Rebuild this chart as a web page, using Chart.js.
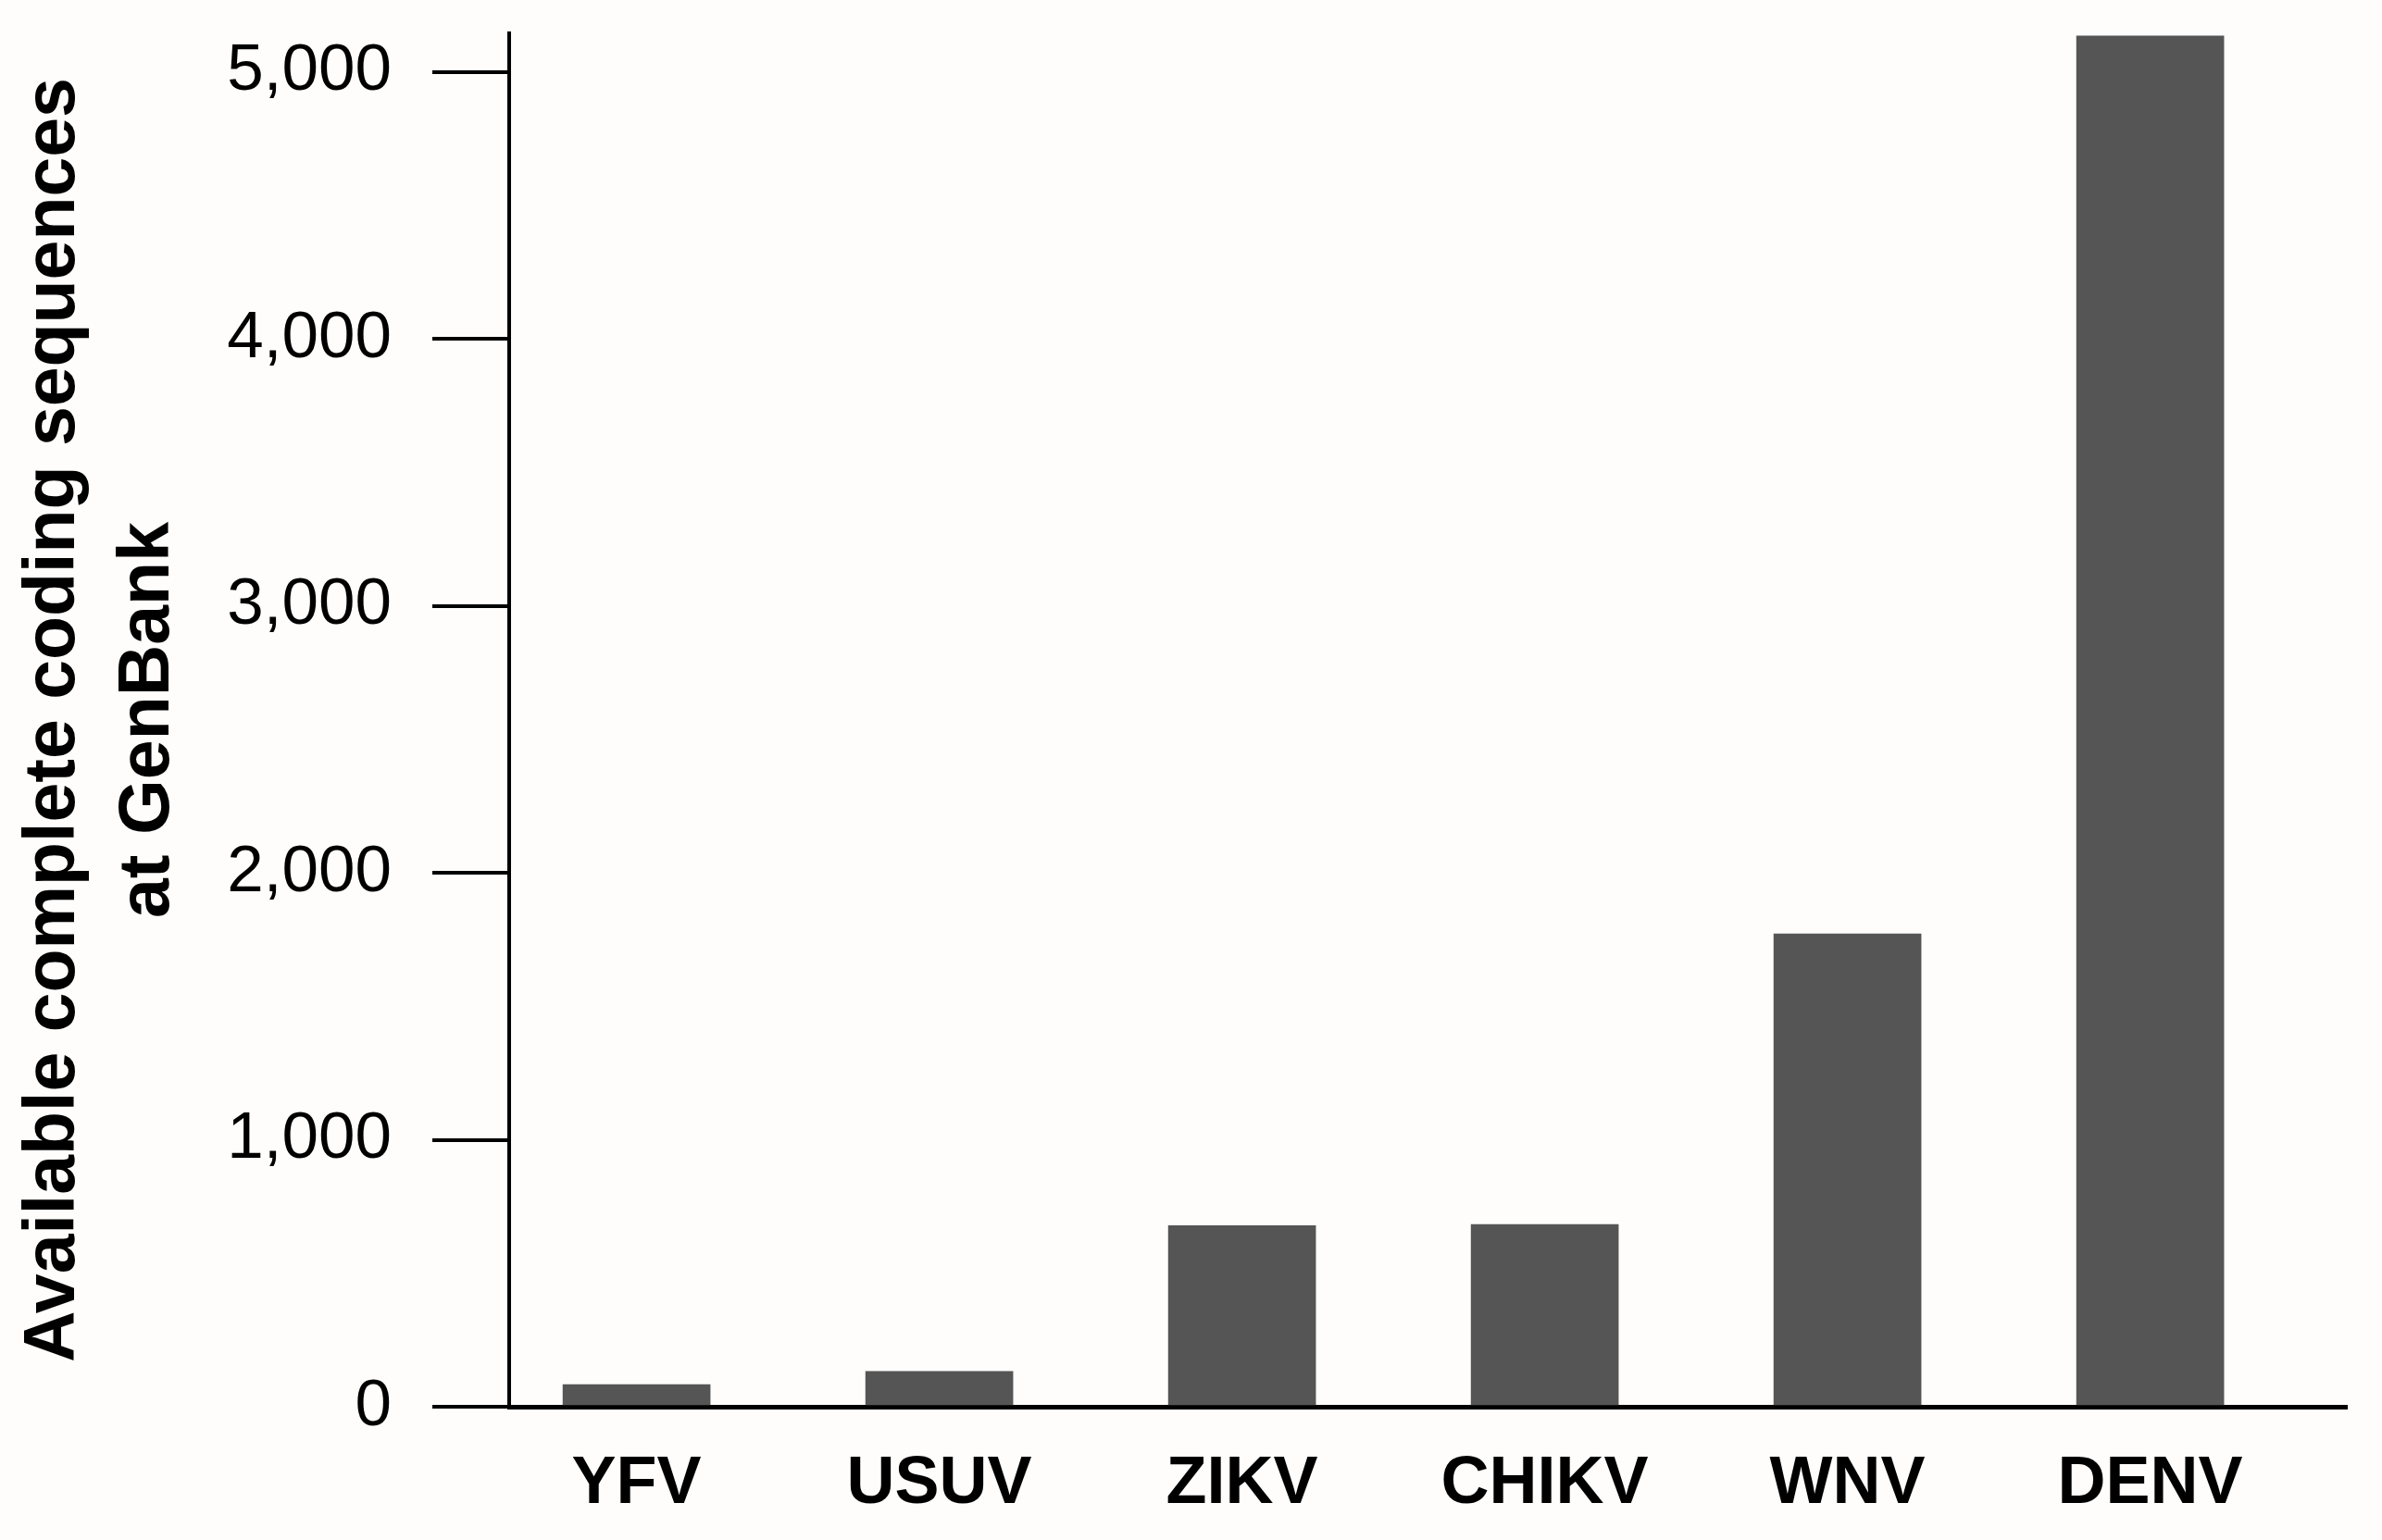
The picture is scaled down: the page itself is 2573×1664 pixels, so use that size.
<!DOCTYPE html>
<html>
<head>
<meta charset="utf-8">
<script src="https://cdn.jsdelivr.net/npm/chart.js@4/dist/chart.umd.min.js"></script>
<style>
  html, body { margin: 0; padding: 0; background: #fefdfc; }
  #wrap { width: 2573px; height: 1664px; position: relative; }
</style>
</head>
<body>
<div id="wrap"><canvas id="c"></canvas></div>
<script>
const categories = ['YFV', 'USUV', 'ZIKV', 'CHIKV', 'WNV', 'DENV'];
const sequenceCounts = [83, 132, 678, 683, 1771, 5135];
const yTickValues = [0, 1000, 2000, 3000, 4000, 5000];
const yTitleLines = ['Available complete coding sequences', 'at GenBank'];
const yMin = 0;
const yMax = 5145;

const ctx = document.getElementById('c').getContext('2d');
new Chart(ctx, {
  type: 'bar',
  data: {
    datasets: [{
      data: sequenceCounts.map((v, i) => ({ x: i, y: v })),
      backgroundColor: '#555555',
      borderWidth: 0,
      barThickness: 159
    }]
  },
  options: {
    responsive: true,
    maintainAspectRatio: false,
    animation: false,
    events: [],
    layout: { padding: { left: 0, right: 38, top: 36, bottom: 0 } },
    plugins: { legend: { display: false }, tooltip: { enabled: false } },
    scales: {
      x: {
        type: 'linear',
        bounds: 'data',
        offset: false,
        min: -0.4208,
        max: 5.6495,
        grid: { display: false, drawTicks: false, offset: false },
        border: { display: true, color: '#000000', width: 5 },
        afterBuildTicks: (s) => { s.ticks = categories.map((c, i) => ({ value: i })); },
        ticks: {
          autoSkip: false,
          maxRotation: 0,
          minRotation: 0,
          padding: 41,
          color: '#000000',
          font: { family: '"Liberation Sans", Arial, sans-serif', size: 72, weight: 'bold' },
          callback: (v) => categories[Math.round(v)] !== undefined ? categories[Math.round(v)] : ''
        },
        afterFit: (s) => { s.height = 144; s.paddingLeft = 0; s.paddingRight = 0; }
      },
      y: {
        bounds: 'data',
        min: yMin,
        max: yMax,
        grid: { display: true, drawOnChartArea: false, drawTicks: true, tickLength: 83, color: '#000000', lineWidth: 4 },
        border: { display: true, color: '#000000', width: 4 },
        afterBuildTicks: (s) => { s.ticks = yTickValues.map((v) => ({ value: v })); },
        ticks: {
          padding: 44,
          color: '#000000',
          font: { family: '"Liberation Sans", Arial, sans-serif', size: 71, weight: 'normal' },
          callback: (v) => Number(v).toLocaleString('en-US')
        },
        title: {
          display: true,
          text: yTitleLines,
          color: '#000000',
          padding: { top: 8, bottom: 0 },
          font: { family: '"Liberation Sans", Arial, sans-serif', size: 77, weight: 'bold', lineHeight: 1.325 }
        },
        afterFit: (s) => { s.width = 550; s.paddingTop = 0; s.paddingBottom = 0; }
      }
    }
  }
});
</script>
</body>
</html>
